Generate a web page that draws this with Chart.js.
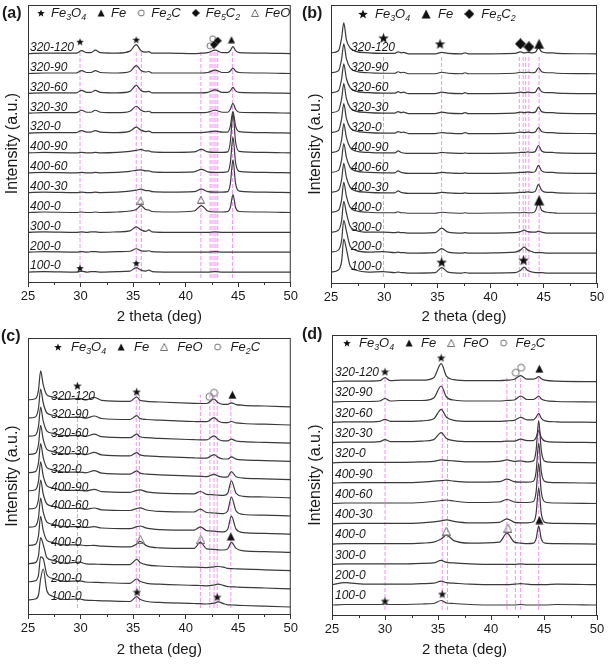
<!DOCTYPE html>
<html>
<head>
<meta charset="utf-8">
<script src="https://cdn.jsdelivr.net/npm/chart.js@4.4.1/dist/chart.umd.min.js"></script>
<style>
  body { margin: 0; background: #fff; width: 609px; height: 664px; position: relative; overflow: hidden; }
  .p { position: absolute; }
</style>
</head>
<body>
<div class="p" style="left:0;top:0;width:300px;height:330px"><canvas id="cA"></canvas></div>
<div class="p" style="left:300px;top:0;width:309px;height:330px"><canvas id="cB"></canvas></div>
<div class="p" style="left:0;top:322px;width:300px;height:342px"><canvas id="cC"></canvas></div>
<div class="p" style="left:300px;top:322px;width:309px;height:342px"><canvas id="cD"></canvas></div>
<script>
// samples, bottom curve first
const samples = ['100-0', '200-0', '300-0', '400-0', '400-30', '400-60', '400-90',
    '320-0', '320-30', '320-60', '320-90', '320-120'];

// ---- (a) ----
const xA = [25, 26.5, 29.6, 30.1, 30.6, 31.0, 31.4, 31.9, 33.5, 34.7, 35.3, 35.75, 36.2, 36.5, 36.8,
    38.5, 40.8, 41.5, 42.1, 42.8, 43.5, 44.0, 44.25, 44.5, 44.75, 45.1, 47.5, 50];
const yA = [
    [0, 0.5, 0, 1, 0, 0.5, 0.5, 0, 0.5, 1, 4.5, 2, 1, 2, 0.5, 0, 0, 0, 0, 0.5, 0, 0, 0, 0, 0, 0, 0, 0],
    [0, 0.5, 0, 0.5, 0, 0.5, 0.5, 0, 0.5, 1, 3.5, 1.5, 1, 1.5, 0.5, 0, 0, 0, 0, 0.5, 0, 0, 0, 0, 0, 0, 0, 0],
    [0, 0.5, 0, 0.5, 0, 0.5, 0.5, 0, 0.5, 1.5, 5.5, 2.5, 1, 2.5, 0.5, 0, 0, 0, 0, 0.5, 0, 0, 0, 0, 0, 0, 0, 0],
    [0, 0.5, 0, 0.5, 0, 0, 0.5, 0, 0.5, 1.5, 3, 7, 3, 2.5, 1, 0.5, 1.5, 7, 1.5, 0.5, 0.5, 1, 5, 18, 5, 1, 0.5, 0],
    [0, 0.5, 0, 0.5, 0, 0, 0.5, 0, 0.5, 1.5, 2.5, 3.5, 2, 2, 1, 0.5, 1, 3.5, 1, 0.5, 0.5, 1, 9, 33, 9, 1.5, 0.5, 0],
    [0, 0.5, 0, 0.5, 0, 0, 0.5, 0, 0.5, 1.5, 2.5, 3, 2, 2, 1, 0.5, 1, 3.5, 1, 0.5, 0.5, 1, 10, 36, 10, 1.5, 0.5, 0],
    [0, 0.5, 0, 0.5, 0, 0, 0.5, 0, 0.5, 1.5, 2.5, 3.5, 2, 2, 1, 0.5, 1, 3.5, 1, 0.5, 0.5, 1, 11, 40, 11, 1.5, 0.5, 0],
    [0, 0.5, 0.5, 2.5, 1, 1, 2.5, 1, 0.5, 2, 6, 3, 1.5, 2, 0.5, 0.5, 0.5, 0.5, 1, 2, 1, 1, 7, 22, 7, 1.5, 0.5, 0],
    [0, 0.5, 0.5, 3, 1, 1, 3, 1, 0.5, 2, 7, 3, 1.5, 2, 0.5, 0.5, 0.5, 0.5, 1, 3, 1, 1, 4, 10, 4, 1, 0.5, 0],
    [0, 0.5, 0.5, 3, 1, 1, 3, 1, 0.5, 2, 8, 3, 1.5, 2, 0.5, 0.5, 0.5, 0.5, 1, 3.5, 1, 1, 2.5, 6, 2.5, 1, 0.5, 0],
    [0, 0.5, 0.5, 3, 1, 1, 3, 1, 0.5, 2, 8, 3, 1.5, 2, 0.5, 0.5, 0.5, 0.5, 1, 3.5, 1, 1, 2.5, 5.5, 2.5, 1, 0.5, 0],
    [0, 0.5, 0.5, 3, 1, 1, 3.5, 1, 0.5, 2.5, 9, 3, 1.5, 2, 0.5, 0.5, 0, 0.5, 1, 3.5, 1, 1, 3, 7, 3, 1, 0.5, 0]
];
const refA = [29.95, 35.3, 35.78, 41.45, 42.32, 42.5, 42.7, 42.88, 43.05, 44.45];
const marksA = [
    ['star', 29.95, '320-120', 12], ['star', 35.3, '320-120', 14],
    ['circ', 42.57, '320-120', 15], ['circ', 42.32, '320-120', 8],
    ['diam', 42.7, '320-120', 9], ['diam', 43.05, '320-120', 13],
    ['tri', 44.36, '320-120', 14],
    ['otri', 35.7, '400-0', 12], ['otri', 41.45, '400-0', 13],
    ['star', 29.95, '100-0', 4], ['star', 35.3, '100-0', 9]
];
const legendA = [['star', 'Fe3O4'], ['tri', 'Fe'], ['circ', 'Fe2C'], ['diam', 'Fe5C2'], ['otri', 'FeO']];

// ---- (b) ----
const xB = [25, 25.7, 26.0, 26.2, 26.45, 26.8, 27.3, 28.5, 29.9, 31.0, 31.3, 31.6, 31.8, 32.3, 34.8, 35.4,
    36.0, 37.3, 37.6, 37.9, 42.3, 42.8, 43.15, 43.5, 43.9, 44.2, 44.5, 44.8, 45.3, 45.8, 46.3, 50];
const yB = [
    [1, 3, 12, 34, 24, 7, 3, 1, 1.5, 0.5, 1, 0.5, 0.5, 0, 0.5, 5.5, 1, 0, 0.5, 0, 0.5, 2.5, 6, 2.5, 1, 0.5, 0.5, 0.5, 0, 0, 0, 0],
    [1, 3, 13, 33, 22, 7, 3, 1, 1.5, 0.5, 1, 0.5, 0.5, 0, 0.5, 4.5, 1, 0, 0.5, 0, 1, 3, 6, 3, 1.5, 0.5, 0.5, 0.5, 0, 0, 0, 0],
    [1, 3, 13, 32, 20, 7, 3, 1, 1, 0.5, 1, 0.5, 0.5, 0, 0.5, 5, 1, 0, 0.5, 0, 0.5, 1.5, 3, 1.5, 1, 1, 2, 1, 0, 0, 0, 0],
    [1, 3, 14, 31, 17, 6, 2.5, 1, 0.5, 0.5, 1.5, 0.5, 0.5, 0, 0, 1, 0.5, 0, 0.5, 0, 0.5, 0.5, 1, 0.5, 0.5, 2, 10, 3, 1, 0.5, 0, 0],
    [1, 3, 14, 30, 16, 6, 2.5, 1, 0.5, 0.5, 2.5, 1, 0.5, 0, 0, 1, 0.5, 0, 0.5, 0, 0.5, 1, 1, 1.5, 1, 2, 9, 3, 1, 1, 0.5, 0],
    [1, 3, 14, 30, 16, 6, 2.5, 1, 0.5, 0.5, 2.5, 1, 0.5, 0, 0, 1, 0.5, 0, 0.5, 0, 0.5, 1, 1, 1.5, 1, 2, 8, 2.5, 1, 1, 0.5, 0],
    [1, 3, 14, 30, 16, 6, 2.5, 1, 0.5, 0.5, 2.5, 1, 0.5, 0, 0, 1, 0.5, 0, 0.5, 0, 0.5, 1, 1, 1.5, 1, 2, 8, 2.5, 1, 1, 0.5, 0],
    [1, 3, 15, 30, 15, 6, 2.5, 1, 0.5, 0.5, 2, 1, 1.5, 0, 0, 1, 0.5, 0, 1, 0, 0.5, 1.5, 1, 1.5, 1, 1.5, 6, 2, 1, 1, 0.5, 0],
    [1, 3, 15, 30, 15, 6, 2.5, 1, 0.5, 0.5, 2, 1, 1.5, 0, 0, 1.5, 0.5, 0, 1, 0, 0.5, 1.5, 1, 1.5, 1, 1.5, 6.5, 2, 1, 1, 0.5, 0],
    [1, 3, 15, 30, 15, 6, 2.5, 1, 0.5, 0.5, 2, 1, 1.5, 0, 0, 1.5, 0.5, 0, 1, 0, 0.5, 1.5, 1, 1.5, 1, 1.5, 6, 2, 1, 1, 0.5, 0],
    [1, 3, 15, 30, 15, 6, 2.5, 1, 0.5, 0.5, 2, 1, 1.5, 0, 0, 1.5, 0.5, 0, 1, 0, 0.5, 1.5, 1, 1.5, 1, 1.5, 6, 2, 1, 1, 0.5, 0],
    [1, 3, 16, 31, 14, 6, 2.5, 1, 0.5, 0.5, 2, 1, 1.5, 0, 0, 1.5, 0.5, 0, 1, 0, 0.5, 2, 1, 1.5, 1, 1.5, 6, 2, 1, 1, 0.5, 0]
];
const refB = [29.94, 35.4, 42.7, 43.06, 43.3, 43.6, 44.56];
const marksB = [
    ['star', 29.94, '320-120', 16], ['star', 35.25, '320-120', 10],
    ['diam', 42.8, '320-120', 10], ['diam', 43.6, '320-120', 7],
    ['tri', 44.56, '320-120', 10], ['tri', 44.56, '400-0', 13],
    ['star', 35.4, '100-0', 11], ['star', 43.1, '100-0', 13]
];
const legendB = [['star', 'Fe3O4'], ['tri', 'Fe'], ['diam', 'Fe5C2']];

// ---- (c) ----
const xC = [25, 25.7, 26.0, 26.2, 26.45, 26.8, 27.3, 28.5, 29.9, 30.5, 31.3, 32.0, 34.7, 35.35, 35.65, 36.3,
    37.5, 40.8, 41.4, 42.0, 42.7, 43.1, 43.6, 44.0, 44.35, 44.8, 45.5, 47.5, 50];
const yC = [
    [7, 8, 12, 28, 38, 16, 11, 7.5, 8, 6.8, 6.5, 6.2, 5.5, 10.3, 7.7, 5.5, 4.6, 3.5, 3.3, 3, 3.8, 5.1, 3.4, 2.2, 2, 1.8, 1.5, 0.8, 0],
    [7, 8, 14, 32, 30, 14, 10.5, 7.5, 8, 6.8, 6.5, 6.2, 5.5, 9.8, 7.5, 5.5, 4.6, 3.5, 3.3, 3, 3.8, 4.6, 3.4, 2.2, 2, 1.8, 1.5, 0.8, 0],
    [7, 8, 15, 33, 26, 13, 10.5, 7.5, 8.5, 6.8, 6.5, 6.2, 6, 11.3, 8.2, 5.8, 4.6, 3.5, 3.3, 3, 3.8, 4.1, 3.4, 2.2, 2, 1.8, 1.5, 0.8, 0],
    [7, 8, 17, 36, 22, 12, 10, 7.5, 7.5, 6.8, 7, 6.2, 5.5, 8.3, 11, 6.5, 4.6, 4, 10.3, 3.5, 3, 2.6, 2.4, 3.5, 10, 4, 1.5, 0.8, 0],
    [7, 8, 17, 36, 22, 12, 10, 7.5, 7.5, 6.8, 7.5, 6.2, 5.5, 7.5, 8.2, 6, 4.6, 4, 7.3, 3.5, 3, 2.6, 2.4, 5, 18, 5, 1.5, 0.8, 0],
    [7, 8, 17, 36, 22, 12, 10, 7.5, 7.5, 6.8, 8, 6.2, 5.5, 7.5, 8.2, 6, 4.6, 4, 6.8, 3.5, 3, 2.6, 2.4, 5, 19, 5, 1.5, 0.8, 0],
    [7, 8, 17, 36, 22, 12, 10, 7.5, 7.5, 6.8, 8.5, 6.2, 5.5, 7.5, 8, 6, 4.6, 4, 6.3, 3.5, 3, 2.6, 2.4, 4.5, 17, 4.5, 1.5, 0.8, 0],
    [7, 8, 17, 36, 22, 12, 10, 7.5, 7.5, 6.8, 9, 6.5, 5.5, 8.8, 6.5, 5.5, 4.8, 3.5, 3.3, 3, 5.3, 3.5, 2.4, 2.8, 8, 2.8, 1.5, 0.8, 0],
    [7, 8, 17, 36, 22, 12, 10, 7.5, 7.8, 6.8, 9, 6.5, 5.5, 8.8, 6.5, 5.5, 4.8, 3.5, 3.3, 3.3, 6.8, 4, 2.4, 2.4, 4.5, 2.2, 1.5, 0.8, 0],
    [7, 8, 17, 36, 22, 12, 10, 7.5, 7.8, 6.8, 9, 6.5, 5.5, 9, 6.5, 5.5, 4.8, 3.5, 3.3, 3.3, 7.3, 4, 2.4, 2.4, 4, 2.2, 1.5, 0.8, 0],
    [7, 8, 17, 36, 22, 12, 10, 7.5, 7.8, 6.8, 9, 6.5, 5.5, 9.3, 6.5, 5.5, 4.8, 3.5, 3.3, 3.3, 7.3, 4, 2.4, 2.4, 3.5, 2.2, 1.5, 0.8, 0],
    [7, 8, 17, 36, 22, 12, 10, 7.5, 8.5, 6.8, 9.5, 6.5, 5.5, 9.8, 6.5, 5.5, 4.8, 3.5, 3.3, 3.3, 7.8, 4, 2.4, 2.4, 4, 2.2, 1.5, 0.8, 0]
];
const refC = [29.7, 35.3, 35.6, 41.4, 42.3, 42.7, 43.0, 44.3];
const marksC = [
    ['star', 29.7, '320-120', 21], ['star', 35.34, '320-120', 15],
    ['circ', 42.26, '320-120', 10], ['circ', 42.7, '320-120', 14],
    ['tri', 44.45, '320-120', 12],
    ['otri', 35.68, '400-0', 13], ['otri', 41.45, '400-0', 13], ['tri', 44.3, '400-0', 16],
    ['star', 35.37, '100-0', 15], ['star', 43.0, '100-0', 10]
];
const legendC = [['star', 'Fe3O4'], ['tri', 'Fe'], ['otri', 'FeO'], ['circ', 'Fe2C']];

// ---- (d) ----
const xD = [25, 26.2, 28.0, 29.5, 30.0, 30.5, 31.5, 33.5, 34.6, 35.3, 35.8, 36.5, 38.0, 40.8, 41.5, 42.2,
    42.8, 43.4, 44.0, 44.25, 44.5, 44.75, 45.1, 46.2, 50];
const yD = [
    [0, 0.5, 0.5, 0.5, 1, 0.5, 0.5, 1, 1.5, 4.5, 2, 1.5, 0.5, 0, 0, 0, 0.5, 0, 0, 0, 0, 0, 0, 0.5, 0],
    [0, 2, 0.5, 0.5, 0.5, 0.5, 0.5, 1, 1.5, 3.5, 2, 1.5, 0.5, 0, 0, 0.5, 1, 0.5, 0, 0, 0, 0, 0, 0.5, 0],
    [0, 0.5, 0.5, 0.5, 0.5, 0.5, 0.5, 1, 1.5, 4, 2, 1.5, 0.5, 0, 0, 0, 0.5, 0, 0, 0, 0, 0, 0, 0, 0],
    [0, 0.5, 0.5, 0.5, 0.5, 0.5, 0.5, 1, 2, 5, 9, 3.5, 1, 2, 11, 2, 1, 0.5, 1, 5, 18, 5, 1, 0.5, 0],
    [0, 0.5, 0.5, 0.5, 0.5, 0.5, 0.5, 1, 2, 3, 4, 2.5, 1, 1.5, 5, 1.5, 1, 1, 2, 10, 36, 10, 1.5, 0.5, 0],
    [0, 0.5, 0.5, 0.5, 0.5, 0.5, 0.5, 1, 2, 3, 3.5, 2.5, 1, 1.5, 4, 1.5, 1, 1, 2, 11, 40, 11, 1.5, 0.5, 0],
    [0, 0.5, 0.5, 0.5, 0.5, 0.5, 0.5, 1, 2, 2.5, 3, 2, 1, 1.5, 4, 1.5, 1, 1, 2, 11, 40, 11, 1.5, 0.5, 0],
    [0, 0.5, 0.5, 0.5, 0.5, 0.5, 0.5, 1, 1.5, 3, 2.5, 2, 1, 1.5, 3, 1.5, 2, 1, 2, 12, 42, 12, 1.5, 0.5, 0],
    [0, 0.5, 0.5, 1, 3, 1, 1, 1.5, 3, 10, 4, 2, 1, 1, 1.5, 1.5, 3.5, 2, 2, 5, 12, 5, 1.5, 0.5, 0],
    [0, 0.5, 0.5, 1, 3, 1, 1, 1.5, 3.5, 13, 5, 2, 1, 1, 1.5, 2, 5, 2.5, 2.5, 5, 9, 4, 1.5, 0.5, 0],
    [0, 0.5, 0.5, 1, 3.5, 1, 1.5, 1.5, 4, 16, 5, 2, 1, 1, 1.5, 2, 6, 2.5, 2.5, 4, 6, 3, 1.5, 0.5, 0],
    [0, 0.5, 0.5, 1, 4, 1, 1.5, 1.5, 4, 18, 5.5, 2, 1, 1, 1.5, 2.5, 6, 2.5, 2.5, 3.5, 5, 3, 1.5, 0.5, 0]
];
const refD = [30.0, 35.4, 35.9, 41.5, 42.3, 42.8, 44.5];
const marksD = [
    ['star', 30.0, '320-120', 10], ['star', 35.3, '320-120', 24],
    ['circ', 42.34, '320-120', 9], ['circ', 42.84, '320-120', 14],
    ['tri', 44.56, '320-120', 13],
    ['otri', 35.78, '400-0', 13], ['otri', 41.6, '400-0', 16], ['tri', 44.56, '400-0', 24],
    ['star', 30.0, '100-0', 4], ['star', 35.4, '100-0', 11]
];
const legendD = [['star', 'Fe3O4'], ['tri', 'Fe'], ['otri', 'FeO'], ['circ', 'Fe2C']];

const FONT = '"Liberation Sans", Arial, sans-serif';
const INK = '#1a1a1a';

// marker glyphs as small canvases, used as pointStyle
const symCache = {};
function sym(kind, s) {
    const key = kind + s;
    if (symCache[key]) return symCache[key];
    const c = document.createElement('canvas');
    c.width = c.height = s;
    const g = c.getContext('2d');
    const m = s / 2;
    g.fillStyle = '#111';
    g.strokeStyle = '#707070';
    g.lineWidth = 1;
    g.beginPath();
    if (kind === 'star') {
        for (let i = 0; i < 10; i++) {
            const r = i % 2 ? m * 0.42 : m;
            const t = -Math.PI / 2 + i * Math.PI / 5;
            g.lineTo(m + r * Math.cos(t), m * 1.1 + r * Math.sin(t));
        }
        g.closePath();
        g.fill();
    } else if (kind === 'tri' || kind === 'otri') {
        g.moveTo(m, 0.5);
        g.lineTo(s - 0.5, s - 0.5);
        g.lineTo(0.5, s - 0.5);
        g.closePath();
        if (kind === 'tri') g.fill(); else g.stroke();
    } else if (kind === 'circ') {
        g.arc(m, m, m - 1, 0, Math.PI * 2);
        g.stroke();
    } else {
        g.moveTo(m, 0);
        g.lineTo(s, m);
        g.lineTo(m, s);
        g.lineTo(0, m);
        g.closePath();
        g.fill();
    }
    symCache[key] = c;
    return c;
}

// chemical formula with digits as subscripts, returns end x
function drawFormula(g, txt, x, y, size) {
    const runs = txt.match(/\d+|\D+/g);
    let cx = x;
    runs.forEach(r => {
        const sub = /\d/.test(r);
        g.font = 'italic ' + (sub ? size * 0.68 : size) + 'px ' + FONT;
        g.fillText(r, cx, sub ? y + size * 0.32 : y);
        cx += g.measureText(r).width;
    });
    return cx;
}

function panel(cfg) {
    const base = k => cfg.base0 + k * cfg.step;
    const datasets = [];

    cfg.refs.forEach(x => datasets.push({
        data: [{x: x, y: cfg.refLo}, {x: x, y: cfg.refHi}],
        borderColor: 'rgba(240,100,240,0.7)',
        borderWidth: 1,
        borderDash: [4, 2],
        pointRadius: 0,
        order: 3
    }));

    cfg.ys.forEach((row, k) => datasets.push({
        data: cfg.xs.map((x, i) => ({x: x, y: base(k) + row[i]})),
        borderColor: '#3a3a3a',
        borderWidth: 1.2,
        pointRadius: 0,
        cubicInterpolationMode: 'monotone',
        order: 2
    }));

    datasets.push({
        data: cfg.marks.map(m => ({x: m[1], y: base(samples.indexOf(m[2])) + m[3]})),
        showLine: false,
        pointRadius: 4,
        pointStyle: cfg.marks.map(m => sym(m[0], cfg.markSize)),
        order: 1
    });

    const decor = {
        id: 'decor',
        afterDatasetsDraw(chart) {
            const g = chart.ctx;
            const a = chart.chartArea;
            const sx = chart.scales.x;
            const sy = chart.scales.y;
            g.save();
            g.strokeStyle = '#333';
            g.lineWidth = 1;
            g.strokeRect(a.left + 0.5, a.top + 0.5, a.right - a.left - 1, a.bottom - a.top);
            // minor ticks
            for (let v = 27.5; v < 50; v += 5) {
                const px = Math.round(sx.getPixelForValue(v)) + 0.5;
                g.beginPath();
                g.moveTo(px, a.bottom);
                g.lineTo(px, a.bottom + 3);
                g.stroke();
            }
            // sample labels
            g.fillStyle = INK;
            g.textBaseline = 'middle';
            g.textAlign = 'left';
            g.font = 'italic 12px ' + FONT;
            samples.forEach((s, k) => {
                g.fillText(s, a.left + cfg.labelDx, sy.getPixelForValue(base(k)) - cfg.labelLift);
            });
            // legend
            let x = cfg.legX;
            cfg.legend.forEach(([kind, name]) => {
                const im = sym(kind, cfg.legSize);
                g.drawImage(im, x - im.width / 2, cfg.legY - im.height / 2);
                x = drawFormula(g, name, x + cfg.legText, cfg.legY, 13) + cfg.legGap;
            });
            // axis titles
            g.textAlign = 'center';
            g.font = '15px ' + FONT;
            g.fillText('2 theta (deg)', (a.left + a.right) / 2, cfg.xTitleY);
            g.save();
            g.translate(cfg.yTitleX, (a.top + a.bottom) / 2);
            g.rotate(-Math.PI / 2);
            g.font = '16px ' + FONT;
            g.fillText('Intensity (a.u.)', 0, 0);
            g.restore();
            // panel letter
            g.textAlign = 'left';
            g.font = 'bold 16px ' + FONT;
            g.fillText(cfg.letter, cfg.letterX, cfg.letterY);
            g.restore();
        }
    };

    new Chart(document.getElementById(cfg.id), {
        type: 'line',
        data: {datasets: datasets},
        options: {
            responsive: true,
            maintainAspectRatio: false,
            animation: false,
            events: [],
            layout: {padding: {left: cfg.pad[0], right: cfg.pad[1], top: cfg.pad[2], bottom: 0}},
            plugins: {legend: {display: false}, tooltip: {enabled: false}},
            scales: {
                x: {
                    type: 'linear',
                    min: 25,
                    max: 50,
                    border: {display: false},
                    grid: {
                        drawOnChartArea: false,
                        tickLength: 5,
                        tickColor: c => (c.tick && c.tick.value % 5 !== 0) ? 'rgba(0,0,0,0)' : '#333'
                    },
                    ticks: {
                        stepSize: 2.5,
                        autoSkip: false,
                        maxRotation: 0,
                        padding: 2,
                        color: INK,
                        font: {family: FONT, size: 13},
                        callback: v => (v % 5 === 0 ? v : '')
                    },
                    afterFit: s => { s.height = cfg.axisH; }
                },
                y: {display: false, min: 0, max: cfg.yMax}
            }
        },
        plugins: [decor]
    });
}

panel({id: 'cA', xs: xA, ys: yA, refs: refA, marks: marksA, legend: legendA, letter: '(a)',
    pad: [28, 5, 3], axisH: 48, yMax: 279, base0: 10, step: 20, refLo: 4, refHi: 232,
    labelDx: 2, labelLift: 6, markSize: 8, legSize: 8, legX: 41, legY: 13, legText: 10, legGap: 15,
    xTitleY: 317, yTitleX: 13, letterX: 2, letterY: 14});
panel({id: 'cB', xs: xB, ys: yB, refs: refB, marks: marksB, legend: legendB, letter: '(b)',
    pad: [31, 12, 4], axisH: 47, yMax: 279, base0: 10, step: 20, refLo: 6, refHi: 228,
    labelDx: 20, labelLift: 6, markSize: 11, legSize: 10, legX: 63, legY: 14, legText: 12, legGap: 16,
    xTitleY: 317, yTitleX: 16, letterX: 2, letterY: 14});
panel({id: 'cC', xs: xC, ys: yC, refs: refC, marks: marksC, legend: legendC, letter: '(c)',
    pad: [28, 5, 16], axisH: 50, yMax: 276, base0: 7, step: 18.2, refLo: 6, refHi: 219,
    labelDx: 23, labelLift: 10, markSize: 9, legSize: 8, legX: 58, legY: 25, legText: 13, legGap: 15,
    xTitleY: 328, yTitleX: 13, letterX: 1, letterY: 15});
panel({id: 'cD', xs: xD, ys: yD, refs: refD, marks: marksD, legend: legendD, letter: '(d)',
    pad: [32, 12, 13], axisH: 49, yMax: 280, base0: 10, step: 20.3, refLo: 5, refHi: 237,
    labelDx: 3, labelLift: 9, markSize: 9, legSize: 8, legX: 47, legY: 21, legText: 12, legGap: 15,
    xTitleY: 328, yTitleX: 16, letterX: 2, letterY: 13});
</script>
</body>
</html>
